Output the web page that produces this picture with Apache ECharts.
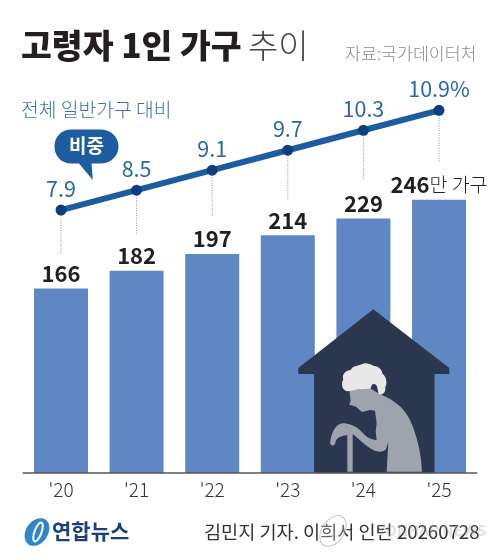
<!DOCTYPE html>
<html>
<head>
<meta charset="utf-8">
<title>고령자 1인 가구 추이</title>
<style>
  html, body { margin: 0; padding: 0; background: #fff; }
  #main { width: 499px; height: 560px; }
</style>
</head>
<body>
<div id="main"></div>
<script src="https://cdn.jsdelivr.net/npm/echarts@6/dist/echarts.min.js"></script>
<script>
var FONT = '"Noto Sans CJK KR", "Noto Sans", sans-serif';

var years = ["'20", "'21", "'22", "'23", "'24", "'25"];
var households = [166, 182, 197, 214, 229, 246];   // 만 가구
var shares = [7.9, 8.5, 9.1, 9.7, 10.3, 10.9];     // %
var leaderEnds = [6.55, 7.15, 7.72, 8.23, 8.8, 9.32]; // 점선 끝 (비중 축 기준)

// graphic 컴포넌트에는 path 타입이 없어서 직접 등록
echarts.graphic.registerShape('personBody', echarts.graphic.extendPath('M88 90 L92 122 L88 134 L108 140 L126 156 L150 150 L165 152 L170 190 L167 215 L170 240 C150 238 140 232 122 212 C105 196 85 190 68 190 C50 192 36 210 30 248 C32 258 42 260 46 250 C48 236 56 228 82 226 L82 335 L98 335 L98 222 C120 240 145 265 165 272 C178 277 190 277 198 268 L205 246 L200 335 L306 335 C304 290 295 235 270 180 C255 150 232 128 200 112 L175 100 L150 85 Z', {}));
echarts.graphic.registerShape('personHair', echarts.graphic.extendPath('M85 94 C66 94 62 72 70 58 C64 42 80 30 92 30 C98 16 118 18 126 12 C140 6 154 14 162 18 C178 18 186 32 188 42 C200 50 202 70 196 82 C198 98 186 108 176 102 C174 92 172 78 168 74 C158 68 154 74 152 86 C130 86 105 88 85 94 Z', {}));
echarts.graphic.registerShape('speechBubble', echarts.graphic.extendPath('M72 129.5 L100 129.5 C111 129.5 118.5 137 118.5 146.5 C118.5 156 111 163.5 100 163.5 L91.5 163.5 L92.8 180 L79 163.5 L72 163.5 C61 163.5 54.5 156 54.5 146.5 C54.5 137 61 129.5 72 129.5 Z', {}));

var chart = echarts.init(document.getElementById('main'), null, { renderer: 'canvas' });

function text(x, y, str, size, color, weight, align) {
    return {
        type: 'text', z: 30, x: x, y: y,
        style: {
            text: str, fontFamily: FONT, fontSize: size, fill: color,
            fontWeight: weight || 'normal', textAlign: align || 'left', textVerticalAlign: 'middle'
        }
    };
}

// 집 + 노인 그림 (좌표는 확대 크롭 기준)
var house = {
    type: 'polygon', z: 10,
    shape: { points: [[373.3, 309.3], [449.3, 368], [449.3, 374], [434.5, 374], [434.5, 473], [314, 473], [314, 374], [298.3, 374], [298.3, 368]] },
    style: { fill: '#2b364f' }
};
var person = {
    type: 'group', x: 320, y: 360, scaleX: 1 / 3, scaleY: 1 / 3, z: 11,
    children: [
        { type: 'personBody', z: 11, style: { fill: '#9fa3ad' } },
        { type: 'personHair', z: 12, style: { fill: '#e8e8e8' } }
    ]
};

var logo = {
    type: 'group', z: 30,
    children: [
        { type: 'ellipse', z: 30, x: 37, y: 532, rotation: -0.6, shape: { cx: 0, cy: 0, rx: 11, ry: 15 }, style: { fill: '#2f86c8' } },
        { type: 'ellipse', z: 31, x: 38, y: 532, rotation: -0.35, shape: { cx: 0, cy: 0, rx: 3.5, ry: 10 }, style: { fill: 'none', stroke: '#fff', lineWidth: 2 } }
    ]
};

// 하단 워터마크
var watermark = {
    type: 'group', z: 40,
    children: [
        { type: 'ellipse', z: 40, x: 333, y: 531, rotation: -0.6, shape: { cx: 0, cy: 0, rx: 11, ry: 17 }, style: { fill: 'rgba(255,255,255,0.25)', stroke: 'rgba(150,150,150,0.55)', lineWidth: 1 } },
        { type: 'text', z: 41, x: 486, y: 530, style: { text: 'YONHAP NEWS', fontFamily: FONT, fontSize: 15, fontWeight: 'bold', fill: 'rgba(170,170,170,0.35)', textAlign: 'right', textVerticalAlign: 'middle' } }
    ]
};

var graphics = [
    text(21, 45, '고령자 1인 가구', 33.5, '#231f20', 900),
    text(248, 45, '추이', 33, '#444', 300),
    text(345, 53, '자료:국가데이터처', 17.3, '#8a8a8a', 300),
    text(21, 110, '전체 일반가구 대비', 19.3, '#3a73b0', 300),
    { type: 'speechBubble', z: 20, style: { fill: '#1d5c9f' } },
    text(86.5, 146, '비중', 19, '#fff', 'bold', 'center'),
    house, person, logo,
    text(52, 531, '연합뉴스', 21, '#1c3f78', 'bold'),
    text(204, 532, '김민지 기자. 이희서 인턴 20260728', 18.6, '#333', 'normal'),
    watermark
];

chart.setOption({
    animation: false,
    backgroundColor: '#fff',
    textStyle: { fontFamily: FONT },
    grid: [
        { left: 23.2, width: 453.6, top: 73, height: 400 },
        { left: 23.2, width: 453.6, top: 107, height: 232.75 }
    ],
    xAxis: [
        {
            type: 'category', gridIndex: 0, data: years, z: 20,
            axisTick: { show: false },
            axisLine: { lineStyle: { color: '#555', width: 1.5 } },
            axisLabel: { color: '#333', fontSize: 19, fontWeight: 300, margin: 7, fontFamily: FONT }
        },
        { type: 'category', gridIndex: 1, data: years, show: false }
    ],
    yAxis: [
        { type: 'value', gridIndex: 0, min: 0, max: 360, show: false },
        { type: 'value', gridIndex: 1, min: 4, max: 11, show: false }
    ],
    series: [
        {
            type: 'bar', xAxisIndex: 0, yAxisIndex: 0, data: households, barWidth: 54,
            itemStyle: { color: '#5f87c4' },
            label: {
                show: true, position: 'top', distance: 4, fontFamily: FONT,
                formatter: function (p) {
                    return p.dataIndex === households.length - 1 ? '{b|' + p.value + '}{u|만 가구}' : '{b|' + p.value + '}';
                },
                rich: {
                    b: { fontSize: 22, fontWeight: 'bold', color: '#231f20', fontFamily: FONT },
                    u: { fontSize: 19.5, fontWeight: 300, color: '#231f20', fontFamily: FONT }
                }
            }
        },
        {
            type: 'custom', xAxisIndex: 1, yAxisIndex: 1, z: 3,
            data: leaderEnds.map(function (end, i) { return [i, shares[i], end]; }),
            encode: { x: 0, y: [1, 2] },
            renderItem: function (params, api) {
                var a = api.coord([api.value(0), api.value(1)]);
                var b = api.coord([api.value(0), api.value(2)]);
                return {
                    type: 'line',
                    shape: { x1: a[0], y1: a[1], x2: b[0], y2: b[1] },
                    style: { stroke: '#8f8f8f', lineWidth: 1, lineDash: [1, 1.5] }
                };
            }
        },
        {
            type: 'line', xAxisIndex: 1, yAxisIndex: 1, data: shares, z: 5,
            symbol: 'circle', symbolSize: 11,
            lineStyle: { color: '#1d5c9f', width: 6 },
            itemStyle: { color: '#0e3f7d' },
            label: {
                show: true, position: 'top', distance: 5, fontSize: 21.5, color: '#2a67a8', fontFamily: FONT,
                formatter: function (p) {
                    return p.dataIndex === shares.length - 1 ? p.value + '%' : p.value.toFixed(1);
                }
            }
        }
    ],
    graphic: graphics
});
</script>
</body>
</html>
